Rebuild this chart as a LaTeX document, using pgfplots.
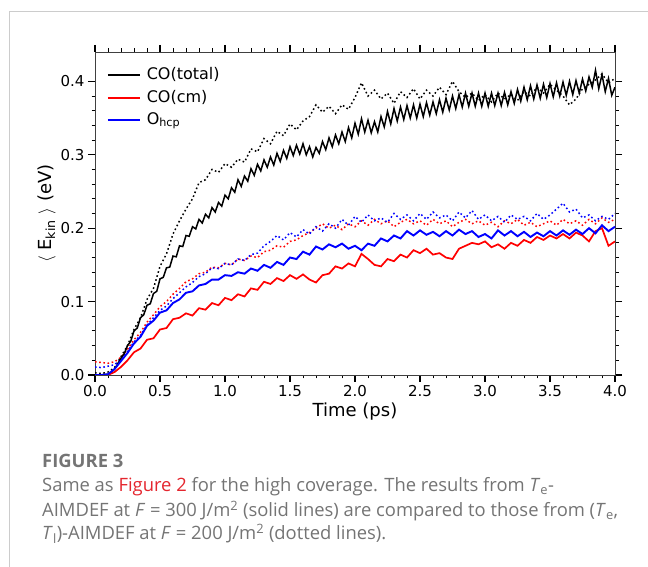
\documentclass[border=0pt]{standalone}
\usepackage{pgfplots}
\pgfplotsset{compat=1.18}
\usepackage{pgfplotstable}
\usepackage{fontspec}
\setmainfont{DejaVu Sans}
\newfontfamily\capfont{Open Sans}
\definecolor{capgray}{HTML}{747474}
\definecolor{capred}{HTML}{E4262E}
\definecolor{framegray}{HTML}{CCCCCC}
\definecolor{cmred}{HTML}{FF0000}
\definecolor{hcpblue}{HTML}{0000FF}

\pgfplotsset{
  legendbox/.style={
    at={(95bp,192bp)}, anchor=south west,
    scale only axis, width=520bp, height=323bp,
    hide axis, xmin=0, xmax=1, ymin=0, ymax=1,
    legend cell align=left,
    legend image code/.code={\draw[##1] (0bp,0bp) -- (32bp,0bp);},
    legend style={at={(0,1)}, anchor=north west, draw=none, fill=none,
      xshift=9bp, column sep=4bp,
      nodes={text height=12bp, text depth=4bp},
      font=\fontsize{16bp}{19bp}\selectfont},
  },
}

\pgfplotstableread{
t E
0.000 0.000
0.025 0.000
0.050 0.000
0.075 0.001
0.100 0.001
0.125 0.004
0.150 0.008
0.175 0.015
0.200 0.023
0.225 0.029
0.250 0.040
0.275 0.046
0.300 0.060
0.325 0.064
0.350 0.078
0.375 0.082
0.400 0.095
0.425 0.097
0.450 0.111
0.475 0.114
0.500 0.131
0.525 0.133
0.550 0.146
0.575 0.147
0.600 0.162
0.625 0.161
0.650 0.176
0.675 0.175
0.700 0.190
0.725 0.189
0.750 0.202
0.775 0.199
0.800 0.212
0.825 0.207
0.850 0.219
0.875 0.214
0.900 0.228
0.925 0.222
0.950 0.235
0.975 0.230
1.000 0.245
1.025 0.240
1.050 0.255
1.075 0.249
1.100 0.266
1.125 0.257
1.150 0.271
1.175 0.264
1.200 0.281
1.225 0.272
1.250 0.287
1.275 0.278
1.300 0.293
1.325 0.283
1.350 0.297
1.375 0.286
1.400 0.302
1.425 0.291
1.450 0.306
1.475 0.295
1.500 0.311
1.525 0.299
1.550 0.313
1.575 0.301
1.600 0.315
1.625 0.300
1.650 0.311
1.675 0.297
1.700 0.310
1.725 0.302
1.750 0.318
1.775 0.307
1.800 0.323
1.825 0.311
1.850 0.327
1.875 0.315
1.900 0.331
1.925 0.318
1.950 0.337
1.975 0.323
2.000 0.343
2.025 0.328
2.050 0.349
2.075 0.331
2.100 0.347
2.125 0.330
2.150 0.345
2.175 0.331
2.200 0.352
2.225 0.338
2.250 0.359
2.275 0.342
2.300 0.363
2.325 0.346
2.350 0.365
2.375 0.348
2.400 0.367
2.425 0.350
2.450 0.368
2.475 0.350
2.500 0.369
2.525 0.352
2.550 0.371
2.575 0.354
2.600 0.372
2.625 0.356
2.650 0.375
2.675 0.358
2.700 0.377
2.725 0.361
2.750 0.380
2.775 0.363
2.800 0.382
2.825 0.365
2.850 0.384
2.875 0.366
2.900 0.384
2.925 0.366
2.950 0.384
2.975 0.366
3.000 0.384
3.025 0.366
3.050 0.384
3.075 0.367
3.100 0.384
3.125 0.367
3.150 0.385
3.175 0.368
3.200 0.386
3.225 0.370
3.250 0.389
3.275 0.373
3.300 0.392
3.325 0.375
3.350 0.394
3.375 0.376
3.400 0.395
3.425 0.377
3.450 0.396
3.475 0.378
3.500 0.397
3.525 0.379
3.550 0.398
3.575 0.380
3.600 0.399
3.625 0.381
3.650 0.400
3.675 0.382
3.700 0.401
3.725 0.384
3.750 0.403
3.775 0.387
3.800 0.406
3.825 0.392
3.850 0.415
3.875 0.390
3.900 0.409
3.925 0.386
3.950 0.404
3.975 0.381
4.000 0.392
}\totalsolid

\pgfplotstableread{
t E
0.00 0.003
0.05 0.002
0.10 0.004
0.15 0.010
0.20 0.025
0.25 0.040
0.30 0.062
0.35 0.078
0.40 0.103
0.45 0.118
0.50 0.148
0.55 0.165
0.60 0.192
0.65 0.210
0.70 0.226
0.75 0.240
0.80 0.262
0.85 0.266
0.90 0.280
0.95 0.276
1.00 0.288
1.05 0.283
1.10 0.294
1.15 0.290
1.20 0.308
1.25 0.304
1.30 0.322
1.35 0.315
1.40 0.332
1.45 0.326
1.50 0.342
1.55 0.334
1.60 0.346
1.65 0.352
1.70 0.368
1.75 0.358
1.80 0.366
1.85 0.356
1.90 0.368
1.95 0.362
2.00 0.378
2.05 0.398
2.10 0.380
2.15 0.388
2.20 0.376
2.25 0.384
2.30 0.370
2.35 0.386
2.40 0.378
2.45 0.390
2.50 0.376
2.55 0.388
2.60 0.380
2.65 0.392
2.70 0.382
2.75 0.400
2.80 0.386
2.85 0.378
2.90 0.384
2.95 0.374
3.00 0.382
3.05 0.372
3.10 0.384
3.15 0.376
3.20 0.382
3.25 0.374
3.30 0.386
3.35 0.380
3.40 0.392
3.45 0.384
3.50 0.396
3.55 0.388
3.60 0.380
3.65 0.368
3.70 0.376
3.75 0.390
3.80 0.396
3.85 0.402
3.90 0.410
3.95 0.398
4.00 0.404
}\totaldotted

\pgfplotstableread{
t E
0.00 0.000
0.05 0.000
0.10 0.000
0.15 0.004
0.20 0.011
0.25 0.020
0.30 0.031
0.35 0.036
0.40 0.048
0.45 0.050
0.50 0.062
0.55 0.064
0.60 0.076
0.65 0.078
0.70 0.084
0.75 0.081
0.80 0.091
0.85 0.089
0.90 0.098
0.95 0.095
1.00 0.105
1.05 0.102
1.10 0.110
1.15 0.107
1.20 0.118
1.25 0.116
1.30 0.127
1.35 0.124
1.40 0.132
1.45 0.128
1.50 0.136
1.55 0.131
1.60 0.137
1.65 0.130
1.70 0.126
1.75 0.136
1.80 0.138
1.85 0.148
1.90 0.145
1.95 0.152
2.00 0.148
2.05 0.165
2.10 0.158
2.15 0.150
2.20 0.148
2.25 0.158
2.30 0.155
2.35 0.164
2.40 0.160
2.45 0.170
2.50 0.166
2.55 0.172
2.60 0.164
2.65 0.166
2.70 0.160
2.75 0.158
2.80 0.172
2.85 0.176
2.90 0.180
2.95 0.178
3.00 0.182
3.05 0.174
3.10 0.178
3.15 0.172
3.20 0.180
3.25 0.176
3.30 0.184
3.35 0.180
3.40 0.188
3.45 0.184
3.50 0.190
3.55 0.186
3.60 0.192
3.65 0.186
3.70 0.194
3.75 0.190
3.80 0.182
3.85 0.196
3.90 0.200
3.95 0.176
4.00 0.182
}\cmsolid

\pgfplotstableread{
t E
0.00 0.018
0.05 0.017
0.10 0.016
0.15 0.018
0.20 0.024
0.25 0.035
0.30 0.048
0.35 0.058
0.40 0.072
0.45 0.082
0.50 0.093
0.55 0.100
0.60 0.110
0.65 0.118
0.70 0.127
0.75 0.131
0.80 0.138
0.85 0.140
0.90 0.147
0.95 0.146
1.00 0.152
1.05 0.150
1.10 0.158
1.15 0.156
1.20 0.162
1.25 0.160
1.30 0.168
1.35 0.170
1.40 0.176
1.45 0.174
1.50 0.182
1.55 0.184
1.60 0.190
1.65 0.194
1.70 0.200
1.75 0.206
1.80 0.200
1.85 0.204
1.90 0.198
1.95 0.206
2.00 0.202
2.05 0.210
2.10 0.204
2.15 0.212
2.20 0.206
2.25 0.210
2.30 0.202
2.35 0.208
2.40 0.212
2.45 0.206
2.50 0.210
2.55 0.204
2.60 0.212
2.65 0.206
2.70 0.210
2.75 0.202
2.80 0.208
2.85 0.212
2.90 0.206
2.95 0.210
3.00 0.204
3.05 0.208
3.10 0.202
3.15 0.210
3.20 0.206
3.25 0.212
3.30 0.204
3.35 0.208
3.40 0.202
3.45 0.206
3.50 0.210
3.55 0.204
3.60 0.212
3.65 0.206
3.70 0.210
3.75 0.204
3.80 0.212
3.85 0.206
3.90 0.214
3.95 0.208
4.00 0.212
}\cmdotted

\pgfplotstableread{
t E
0.00 0.000
0.05 0.000
0.10 0.001
0.15 0.008
0.20 0.019
0.25 0.030
0.30 0.043
0.35 0.052
0.40 0.067
0.45 0.074
0.50 0.085
0.55 0.088
0.60 0.098
0.65 0.103
0.70 0.112
0.75 0.114
0.80 0.122
0.85 0.124
0.90 0.130
0.95 0.130
1.00 0.136
1.05 0.135
1.10 0.140
1.15 0.138
1.20 0.145
1.25 0.142
1.30 0.150
1.35 0.146
1.40 0.154
1.45 0.150
1.50 0.160
1.55 0.158
1.60 0.168
1.65 0.164
1.70 0.175
1.75 0.171
1.80 0.178
1.85 0.174
1.90 0.179
1.95 0.172
2.00 0.176
2.05 0.170
2.10 0.179
2.15 0.176
2.20 0.186
2.25 0.182
2.30 0.190
2.35 0.186
2.40 0.196
2.45 0.190
2.50 0.197
2.55 0.191
2.60 0.195
2.65 0.189
2.70 0.196
2.75 0.190
2.80 0.198
2.85 0.192
2.90 0.196
2.95 0.188
3.00 0.192
3.05 0.186
3.10 0.197
3.15 0.190
3.20 0.196
3.25 0.189
3.30 0.195
3.35 0.188
3.40 0.194
3.45 0.189
3.50 0.196
3.55 0.190
3.60 0.197
3.65 0.191
3.70 0.198
3.75 0.192
3.80 0.200
3.85 0.193
3.90 0.204
3.95 0.196
4.00 0.202
}\hcpsolid

\pgfplotstableread{
t E
0.00 0.011
0.05 0.010
0.10 0.012
0.15 0.014
0.20 0.021
0.25 0.032
0.30 0.045
0.35 0.054
0.40 0.068
0.45 0.078
0.50 0.088
0.55 0.094
0.60 0.104
0.65 0.112
0.70 0.120
0.75 0.126
0.80 0.134
0.85 0.138
0.90 0.146
0.95 0.145
1.00 0.152
1.05 0.150
1.10 0.158
1.15 0.156
1.20 0.164
1.25 0.166
1.30 0.176
1.35 0.182
1.40 0.190
1.45 0.184
1.50 0.194
1.55 0.188
1.60 0.198
1.65 0.192
1.70 0.202
1.75 0.196
1.80 0.206
1.85 0.200
1.90 0.212
1.95 0.204
2.00 0.216
2.05 0.208
2.10 0.218
2.15 0.210
2.20 0.214
2.25 0.208
2.30 0.220
2.35 0.212
2.40 0.218
2.45 0.210
2.50 0.220
2.55 0.212
2.60 0.222
2.65 0.214
2.70 0.218
2.75 0.210
2.80 0.222
2.85 0.214
2.90 0.224
2.95 0.212
3.00 0.218
3.05 0.210
3.10 0.216
3.15 0.208
3.20 0.218
3.25 0.212
3.30 0.216
3.35 0.210
3.40 0.220
3.45 0.212
3.50 0.218
3.55 0.226
3.60 0.234
3.65 0.222
3.70 0.226
3.75 0.214
3.80 0.218
3.85 0.210
3.90 0.216
3.95 0.212
4.00 0.220
}\hcpdotted

\begin{document}
\begin{tikzpicture}
\path[use as bounding box] (0,0) rectangle (648bp,567bp);
% panel frame (left and top edges)
\draw[framegray, line width=1bp] (9.5bp,0) -- (9.5bp,555.5bp) -- (648bp,555.5bp);
\begin{axis}[
  at={(95bp,192bp)}, anchor=south west,
  scale only axis, width=520bp, height=323bp,
  xmin=0, xmax=4, ymin=0, ymax=0.44,
  xtick={0,0.5,...,4}, ytick={0,0.1,0.2,0.3,0.4},
  minor tick num=4,
  tick align=outside,
  major tick length=7bp, minor tick length=3.5bp,
  every major tick/.style={black, line width=1.3bp},
  every minor tick/.style={black, line width=1bp},
  axis line style={black!75, line width=0.9bp},
  /pgf/number format/assume math mode=true,
  /pgf/number format/fixed, /pgf/number format/fixed zerofill,
  /pgf/number format/precision=1,
  ticklabel style={font=\fontsize{15bp}{18bp}\selectfont},
  xlabel={Time (ps)},
  ylabel={$\langle$ E\textsubscript{kin} $\rangle$ (eV)},
  label style={font=\fontsize{18bp}{21bp}\selectfont},
  xlabel style={yshift=1bp},
  ylabel style={yshift=-2bp},
]
\addplot[color=black, line width=1.5bp, dash pattern=on 1.6bp off 2.6bp] table[x=t,y=E] {\totaldotted};
\addplot[color=cmred, line width=1.5bp, dash pattern=on 1.6bp off 2.6bp] table[x=t,y=E] {\cmdotted};
\addplot[color=hcpblue, line width=1.5bp, dash pattern=on 1.6bp off 2.6bp] table[x=t,y=E] {\hcpdotted};
\addplot[color=black, solid, line width=1.5bp] table[x=t,y=E] {\totalsolid};
\addplot[color=cmred, solid, line width=1.7bp] table[x=t,y=E] {\cmsolid};
\addplot[color=hcpblue, solid, line width=1.9bp] table[x=t,y=E] {\hcpsolid};
\end{axis}
% legend: one single-entry legend per series, stacked
\begin{axis}[legendbox, legend style={yshift=-11bp}]
\addlegendimage{color=black, solid, line width=1.6bp}
\addlegendentry{CO(total)}
\end{axis}
\begin{axis}[legendbox, legend style={yshift=-34bp}]
\addlegendimage{color=cmred, solid, line width=1.6bp}
\addlegendentry{CO(cm)}
\end{axis}
\begin{axis}[legendbox, legend style={yshift=-56bp}]
\addlegendimage{color=hcpblue, solid, line width=1.6bp}
\addlegendentry{O\textsubscript{hcp}}
\end{axis}
% caption
\node[anchor=base west, inner sep=0, text=capgray, font=\capfont\bfseries\fontsize{18.4bp}{22bp}\selectfont] at (42bp,99bp) {FIGURE 3};
\node[anchor=base west, inner sep=0, text=capgray, font=\capfont\fontsize{18.4bp}{22bp}\selectfont] at (42bp,75.3bp)
  {Same as \textcolor{capred}{Figure 2} for the high coverage. The results from \textit{T}\textsubscript{e}-};
\node[anchor=base west, inner sep=0, text=capgray, font=\capfont\fontsize{18.4bp}{22bp}\selectfont] at (42bp,50.3bp)
  {AIMDEF at \textit{F} = 300 J/m\textsuperscript{2} (solid lines) are compared to those from (\textit{T}\textsubscript{e},};
\node[anchor=base west, inner sep=0, text=capgray, font=\capfont\fontsize{18.4bp}{22bp}\selectfont] at (42bp,27.7bp)
  {\textit{T}\textsubscript{l})-AIMDEF at \textit{F} = 200 J/m\textsuperscript{2} (dotted lines).};
\end{tikzpicture}
\end{document}
